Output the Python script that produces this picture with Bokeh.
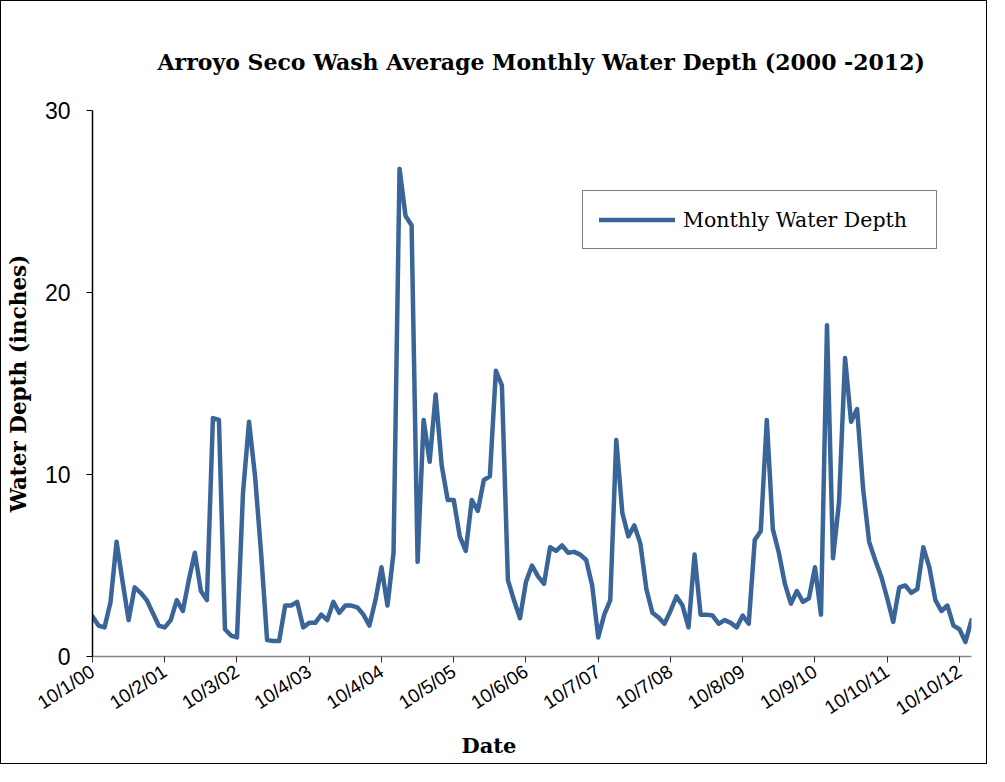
import math
from bokeh.plotting import figure
from bokeh.models import Range1d, FixedTicker, Legend, LegendItem, Title, LinearAxis
from bokeh.embed import file_html
from bokeh.resources import INLINE

# ---- data ----
tick_labels = ["10/1/00", "10/2/01", "10/3/02", "10/4/03", "10/4/04", "10/5/05",
               "10/6/06", "10/7/07", "10/7/08", "10/8/09", "10/9/10", "10/10/11",
               "10/10/12"]
months_per_tick = 12

depth = [2.2, 1.7, 1.6, 3.0, 6.3, 4.1, 2.0, 3.8, 3.5, 3.1, 2.4, 1.7,
         1.6, 2.0, 3.1, 2.5, 4.2, 5.7, 3.6, 3.1, 13.1, 13.0, 1.5, 1.15,
         1.05, 9.0, 12.9, 9.9, 5.7, 0.9, 0.85, 0.85, 2.8, 2.8, 3.0, 1.6,
         1.85, 1.85, 2.3, 2.0, 3.0, 2.4, 2.8, 2.8, 2.7, 2.3, 1.7, 3.1,
         4.9, 2.8, 5.7, 26.8, 24.2, 23.7, 5.2, 13.0, 10.7, 14.4, 10.5, 8.6,
         8.6, 6.6, 5.8, 8.6, 8.0, 9.7, 9.9, 15.7, 14.9, 4.2, 3.1, 2.1,
         4.1, 5.0, 4.4, 4.0, 6.0, 5.8, 6.1, 5.7, 5.75, 5.6, 5.3, 3.9,
         1.05, 2.3, 3.1, 11.9, 7.9, 6.6, 7.2, 6.2, 3.7, 2.4, 2.15, 1.8,
         2.5, 3.3, 2.8, 1.6, 5.6, 2.3, 2.3, 2.25, 1.8, 2.0, 1.85, 1.6,
         2.25, 1.8, 6.4, 6.9, 13.0, 7.0, 5.7, 4.0, 2.9, 3.6, 3.0, 3.2,
         4.9, 2.3, 18.2, 5.4, 8.5, 16.4, 12.9, 13.6, 9.2, 6.3, 5.3, 4.4,
         3.2, 1.9, 3.8, 3.9, 3.5, 3.7, 6.0, 4.9, 3.1, 2.5, 2.8, 1.7,
         1.5, 0.8, 2.0]
month_index = list(range(len(depth)))

y_ticks = [0, 10, 20, 30]

# ---- figure ----
p = figure(width=987, height=764, output_backend="svg", toolbar_location=None,
           x_range=Range1d(0, len(depth) - 1), y_range=Range1d(0, 30),
           min_border_left=91, min_border_right=17,
           min_border_top=109, min_border_bottom=109)
p.styles = {"border": "1px solid #000000"}
p.outline_line_color = None
p.grid.visible = False
p.background_fill_color = "white"
p.border_fill_color = "white"

line = p.line(month_index, depth, line_color="#3A6598", line_width=4.5,
              line_join="round", line_cap="round")

# title
p.title.text = "Arroyo Seco Wash Average  Monthly Water Depth (2000 -2012)"
p.title.align = "left"
p.title.offset = 65
p.title.text_font = "DejaVu Serif"
p.title.text_font_style = "bold"
p.title.text_font_size = "22px"
p.title.text_color = "#000000"
p.title.standoff = 71

# x axis
xa = p.xaxis[0]
xa.ticker = FixedTicker(ticks=[months_per_tick * k for k in range(len(tick_labels))])
xa.major_label_overrides = {months_per_tick * k: lab for k, lab in enumerate(tick_labels)}
xa.major_label_orientation = 0.58
xa.major_label_text_font = "Liberation Sans"
xa.major_label_text_font_size = "19px"
xa.major_label_text_color = "#000000"
xa.major_label_standoff = 7
xa.axis_line_color = "#868686"
xa.axis_line_width = 1.5
xa.major_tick_line_color = "#333333"
xa.major_tick_out = 6
xa.major_tick_in = 0
xa.minor_tick_line_color = None

# blank spacer between the tick labels and the "Date" caption
spacer = LinearAxis(ticker=FixedTicker(ticks=[]), axis_line_color=None,
                    major_tick_line_color=None, minor_tick_line_color=None,
                    major_tick_out=14, major_tick_in=0, minor_tick_out=0,
                    major_label_standoff=0)
p.add_layout(spacer, "below")

p.add_layout(Title(text="Date", align="left", offset=369,
                   text_font="DejaVu Serif", text_font_style="bold",
                   text_font_size="21px", text_color="#000000", standoff=0), "below")

# y axis
ya = p.yaxis[0]
ya.ticker = FixedTicker(ticks=y_ticks)
ya.major_label_text_font = "Liberation Sans"
ya.major_label_text_font_size = "23px"
ya.major_label_text_color = "#000000"
ya.major_label_standoff = 16
ya.axis_line_color = "#000000"
ya.axis_line_width = 1.5
ya.major_tick_line_color = "#000000"
ya.major_tick_out = 6
ya.major_tick_in = 0
ya.minor_tick_line_color = None
ya.axis_label = "Water Depth (inches)"
ya.axis_label_text_font = "DejaVu Serif"
ya.axis_label_text_font_style = "bold"
ya.axis_label_text_font_size = "21.5px"
ya.axis_label_text_color = "#000000"
ya.axis_label_standoff = 11

# legend
legend = Legend(items=[LegendItem(label="Monthly Water Depth", renderers=[line])],
                location=(490, 407))
legend.border_line_color = "#000000"
legend.border_line_width = 1.2
legend.padding = 16
legend.margin = 0
legend.glyph_width = 76
legend.glyph_height = 25
legend.label_standoff = 8
legend.label_width = 237
legend.label_text_font = "DejaVu Serif"
legend.label_text_font_size = "20.5px"
legend.label_text_color = "#000000"
legend.background_fill_alpha = 1.0
p.add_layout(legend, "center")

open("out.html", "w").write(file_html(p, INLINE))
